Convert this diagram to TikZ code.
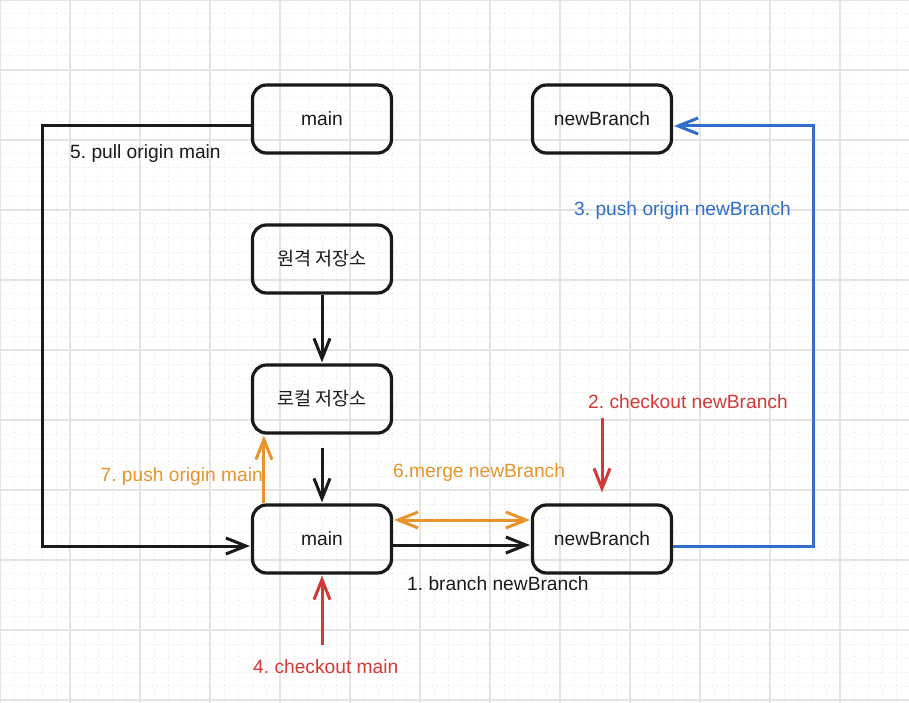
\documentclass[tikz,border=0pt]{standalone}
\usepackage{fontspec}
\setmainfont{Liberation Sans}
\newfontfamily\kr{Noto Sans CJK KR}
\usetikzlibrary{arrows.meta}
\definecolor{cOr}{RGB}{232,148,42}
\definecolor{cRd}{RGB}{211,58,53}
\definecolor{cBl}{RGB}{48,110,200}
\definecolor{cTx}{RGB}{26,26,26}
\definecolor{gMaj}{RGB}{228,228,228}
\definecolor{gMin}{RGB}{240,240,240}
\frenchspacing
\begin{document}
\begin{tikzpicture}[x=1pt,y=-1pt,
  font=\fontsize{19.2}{23}\selectfont,
  box/.style={draw=cTx, line width=3.2pt, rounded corners=14pt, minimum width=139pt, minimum height=68pt, inner sep=0pt, text=cTx},
  arr/.style={line width=3pt, -{Straight Barb[length=20pt,width=16pt,line width=3pt]}},
  arrtwo/.style={line width=3pt, {Straight Barb[length=20pt,width=16pt,line width=3pt]}-{Straight Barb[length=20pt,width=16pt,line width=3pt]}},
  lbl/.style={inner sep=0pt, anchor=base west},
  major/.style={draw=gMaj, line width=1.5pt},
  minor/.style={draw=gMin, line width=1pt, dash pattern=on 1.5pt off 2.5pt}]
\fill[white] (0,0) rectangle (909,703);
\useasboundingbox (0,0) rectangle (909,703);
% grid
\foreach \x in {14,28,...,909} \draw[minor] (\x,0) -- (\x,703);
\foreach \y in {14,28,...,703} \draw[minor] (0,\y) -- (909,\y);
\foreach \x in {0,70,...,909} \draw[major] (\x,0) -- (\x,703);
\foreach \y in {0,70,...,703} \draw[major] (0,\y) -- (909,\y);
% boxes
\node[box] (mT) at (322,119) {\raisebox{-1.5pt}{main}};
\node[box] (nT) at (602,119) {\raisebox{-1.5pt}{newBranch}};
\node[box] (rem) at (322,259) {{\kr\fontsize{18.5}{22}\selectfont 원격 저장소}};
\node[box] (loc) at (322,399) {{\kr\fontsize{18.5}{22}\selectfont 로컬 저장소}};
\node[box] (mB) at (322,539) {\raisebox{-1.5pt}{main}};
\node[box] (nB) at (602,539) {\raisebox{-1.5pt}{newBranch}};
% helper coordinates
\coordinate (pl) at (42,0);
\coordinate (c4) at (322,645);
\coordinate (c2) at (602,418);
% connectors
\draw[arr, cTx] (rem.south) -- ([yshift=1pt]loc.north);
\draw[arr, cTx] ([yshift=-13pt]loc.south) -- ([yshift=1pt]mB.north);
\draw[arr, cOr] ([xshift=13pt]mB.north west) -- ([xshift=13pt,yshift=-1pt]loc.south west);
\draw[arrtwo, cOr] ([yshift=19pt,xshift=1pt]mB.east) -- ([yshift=19pt,xshift=-1pt]nB.west);
\draw[arr, cTx] ([yshift=-6pt]mB.east) -- ([yshift=-6pt,xshift=-1pt]nB.west);
\draw[arr, cBl] ([yshift=-7pt]nB.east) -- ++(140.5,0) |- ([yshift=-7pt,xshift=1pt]nT.east);
\draw[arr, cTx] ([yshift=-7pt]mT.west) -- ([yshift=-7pt]mT.west -| pl) -- ([yshift=-7pt]mB.west -| pl) -- ([yshift=-7pt,xshift=-1pt]mB.west);
\draw[arr, cRd] (c4) -- ([yshift=-1pt]mB.south);
\draw[arr, cRd] (c2) -- ([yshift=11pt]nB.north);
% labels
\node[lbl, text=cTx] (l5) at (70,159) {5. pull origin main};
\node[lbl, text=cBl] (l3) at (574,215) {3. push origin newBranch};
\node[lbl, text=cRd] (l2) at (588,408) {2. checkout newBranch};
\node[lbl, text=cOr] (l6) at (393,477) {6.merge newBranch};
\node[lbl, text=cTx] (l1) at (407,590) {1. branch newBranch};
\node[lbl, text=cOr, anchor=base east] (l7) at (263,481) {7. push origin main};
\node[lbl, text=cRd] (l4) at (253,673) {4. checkout main};
\end{tikzpicture}
\end{document}
